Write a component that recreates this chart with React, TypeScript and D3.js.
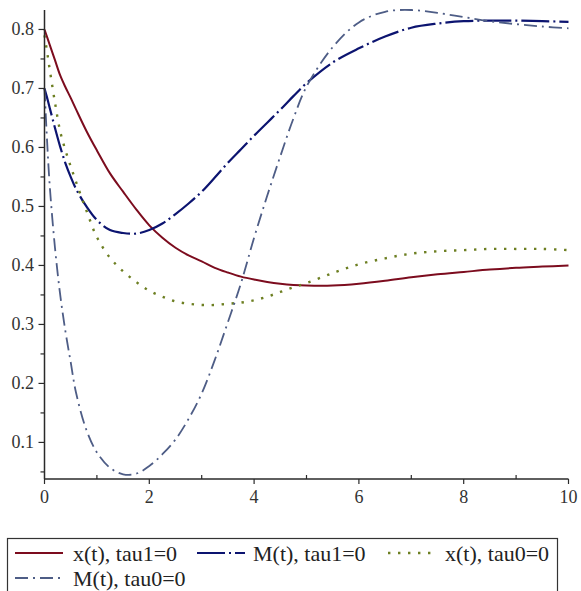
import React from "react";
import * as d3 from "d3";

// time grid shared by all four curves
const tValues = [0, 0.05, 0.1, 0.2, 0.3, 0.4, 0.5, 0.6, 0.8, 1.0, 1.25, 1.5, 1.75, 2, 2.25, 2.5, 2.75, 3, 3.25, 3.5, 3.75, 4, 4.25, 4.5, 4.75, 5, 5.5, 6, 6.5, 7, 7.5, 8, 8.5, 9, 9.5, 10];

// x(t), tau1=0
const xTau1 = [0.8, 0.787, 0.774, 0.748, 0.722, 0.702, 0.684, 0.665, 0.628, 0.595, 0.556, 0.525, 0.495, 0.468, 0.447, 0.43, 0.417, 0.407, 0.396, 0.388, 0.381, 0.376, 0.372, 0.369, 0.367, 0.366, 0.366, 0.369, 0.374, 0.38, 0.385, 0.389, 0.393, 0.396, 0.398, 0.4];

// M(t), tau1=0
const mTau1 = [0.7, 0.684, 0.667, 0.633, 0.601, 0.573, 0.55, 0.53, 0.5, 0.477, 0.46, 0.455, 0.454, 0.46, 0.471, 0.487, 0.505, 0.525, 0.549, 0.574, 0.597, 0.62, 0.642, 0.664, 0.687, 0.709, 0.744, 0.768, 0.788, 0.803, 0.81, 0.814, 0.815, 0.815, 0.814, 0.813];

// x(t), tau0=0
const xTau0 = [0.79, 0.762, 0.732, 0.676, 0.627, 0.595, 0.568, 0.542, 0.493, 0.448, 0.413, 0.39, 0.372, 0.357, 0.347, 0.339, 0.335, 0.333, 0.333, 0.335, 0.337, 0.341, 0.347, 0.355, 0.363, 0.37, 0.387, 0.402, 0.412, 0.42, 0.424, 0.426, 0.428, 0.428, 0.428, 0.426];

// M(t), tau0=0
const mTau0 = [0.7, 0.61, 0.535, 0.43, 0.35, 0.288, 0.236, 0.185, 0.121, 0.083, 0.057, 0.046, 0.047, 0.06, 0.08, 0.105, 0.14, 0.183, 0.24, 0.304, 0.37, 0.447, 0.518, 0.585, 0.649, 0.703, 0.77, 0.812, 0.83, 0.833, 0.828, 0.821, 0.814, 0.809, 0.805, 0.802];

const xTicks = [0, 2, 4, 6, 8, 10];
const xMinor = [1, 3, 5, 7, 9];
const yTicks = [0.1, 0.2, 0.3, 0.4, 0.5, 0.6, 0.7, 0.8];
const yMinor = [0.05, 0.15, 0.25, 0.35, 0.45, 0.55, 0.65, 0.75];

const series = [
  { name: "x(t), tau1=0", values: xTau1, color: "#7c0c1e", width: 2, dash: "none" },
  { name: "M(t), tau1=0", values: mTau1, color: "#0c1470", width: 2.2, dash: "28 4 2 4" },
  { name: "x(t), tau0=0", values: xTau0, color: "#6d7f22", width: 2.4, dash: "2.4 7.6" },
  { name: "M(t), tau0=0", values: mTau0, color: "#4e5d86", width: 1.8, dash: "13 5 2 5" },
];

const serif = '"Liberation Serif", "Times New Roman", "DejaVu Serif", serif';

export default function App() {
  const W = 581;
  const H = 591;
  const x = d3.scaleLinear().domain([0, 10]).range([44.5, 568.5]);
  const y = d3.scaleLinear().domain([0.038, 0.833]).range([479, 10]);

  const line = (vals: number[]) =>
    d3.line<number>()
      .x((_, i) => x(tValues[i]))
      .y((d) => y(d))
      .curve(d3.curveCatmullRom.alpha(0.5))(vals) || "";

  const axisColor = "#2a2a2a";
  const textStyle = { fontFamily: serif };

  // legend layout
  const legendItems = [
    { s: series[0], lx: 15, ly: 553, tx: 73, ty: 561 },
    { s: series[1], lx: 197, ly: 553, tx: 253, ty: 561 },
    { s: series[2], lx: 388, ly: 553, tx: 445, ty: 561 },
    { s: series[3], lx: 15, ly: 578, tx: 73, ty: 586 },
  ];

  return (
    <svg width={W} height={H} style={{ position: "absolute", left: 0, top: 0, background: "#fff" }}>
      <rect x={0} y={0} width={W} height={H} fill="#fff" />

      {/* curves */}
      {series.map((s) => (
        <path
          key={s.name}
          d={line(s.values)}
          fill="none"
          stroke={s.color}
          strokeWidth={s.width}
          strokeDasharray={s.dash}
        />
      ))}

      {/* axes */}
      <line x1={x(0)} x2={x(0)} y1={10} y2={479} stroke={axisColor} strokeWidth={1.5} />
      <line x1={x(0)} x2={x(10)} y1={479} y2={479} stroke={axisColor} strokeWidth={1.5} />

      {yTicks.map((v) => (
        <g key={"yt" + v}>
          <line x1={x(0) - 6} x2={x(0)} y1={y(v)} y2={y(v)} stroke={axisColor} strokeWidth={1.2} />
          <text x={34} y={y(v) + 6} textAnchor="end" style={textStyle} fontSize={18} fill="#333">
            {v.toFixed(1)}
          </text>
        </g>
      ))}
      {yMinor.map((v) => (
        <line key={"ym" + v} x1={x(0) - 4} x2={x(0)} y1={y(v)} y2={y(v)} stroke={axisColor} strokeWidth={1.2} />
      ))}

      {xTicks.map((t) => (
        <g key={"xt" + t}>
          <line x1={x(t)} x2={x(t)} y1={479} y2={484} stroke={axisColor} strokeWidth={1.2} />
          <text x={x(t)} y={503} textAnchor="middle" style={textStyle} fontSize={18} fill="#333">
            {t}
          </text>
        </g>
      ))}
      {xMinor.map((t) => (
        <line key={"xm" + t} x1={x(t)} x2={x(t)} y1={475} y2={479} stroke={axisColor} strokeWidth={1.2} />
      ))}

      {/* legend */}
      <rect x={7.5} y={538.5} width={550} height={70} fill="none" stroke="#333" strokeWidth={1.2} />
      {legendItems.map((it) => (
        <g key={"lg" + it.s.name}>
          <line
            x1={it.lx}
            x2={it.lx + 48}
            y1={it.ly}
            y2={it.ly}
            stroke={it.s.color}
            strokeWidth={it.s.width}
            strokeDasharray={it.s.dash}
          />
          <text x={it.tx} y={it.ty} style={textStyle} fontSize={22} fill="#222">
            {it.s.name}
          </text>
        </g>
      ))}
    </svg>
  );
}
